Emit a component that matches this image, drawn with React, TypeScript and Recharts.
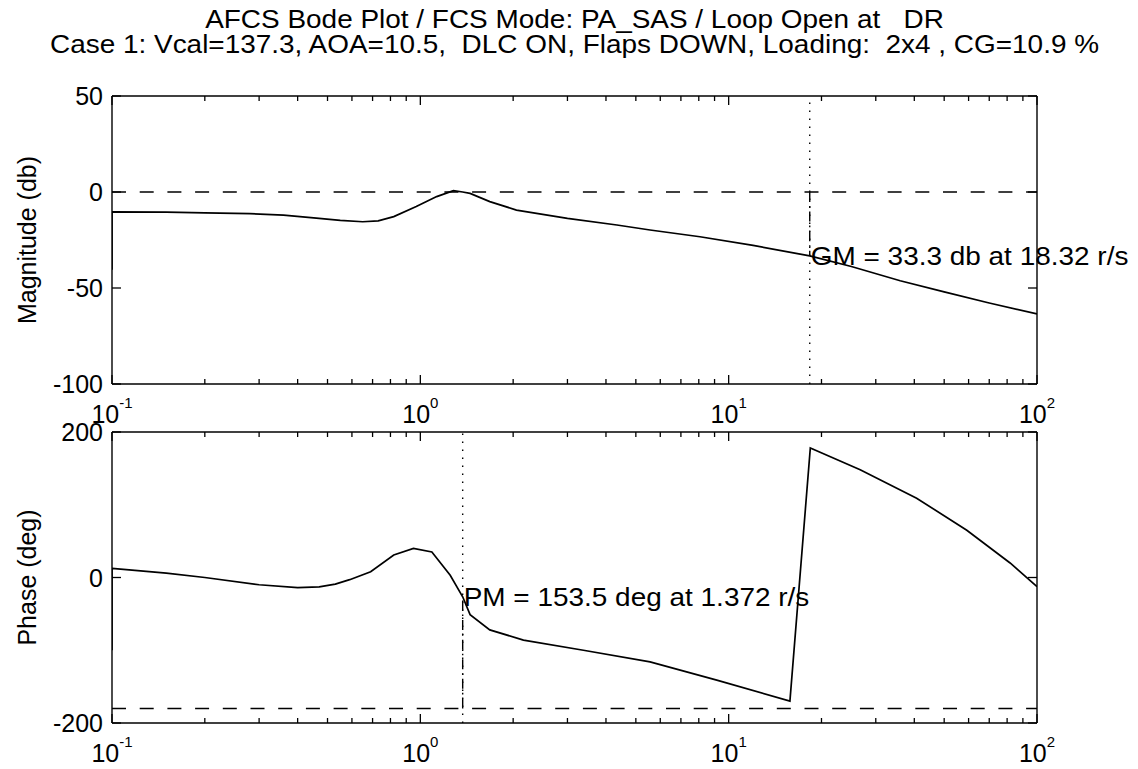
import React from 'react'
import { LineChart, Line, XAxis, YAxis, ReferenceLine, ReferenceDot, Label } from 'recharts'

const FONT = '"Liberation Sans", Arial, Helvetica, sans-serif'
const INK = '#000'

// open-loop frequency response, frequency in rad/s
const magFreq = [0.1, 0.1, 0.15, 0.2, 0.28, 0.36, 0.46, 0.55, 0.65, 0.73, 0.82, 0.97, 1.13, 1.28, 1.372, 1.45, 1.68, 2.05, 3.0, 4.34, 5.56, 8.07, 12, 18.32, 25, 36, 50, 70, 100]
const magDb = [-40.5, -10.3, -10.5, -10.9, -11.3, -12.0, -13.6, -14.8, -15.5, -15.0, -12.8, -7.6, -2.4, 0.7, 0, -0.7, -5.0, -9.4, -13.7, -17.2, -19.8, -23.3, -27.8, -33.3, -38.8, -46.2, -52.0, -57.8, -63.5]

const phaseFreq = [0.1, 0.1, 0.15, 0.2, 0.3, 0.4, 0.47, 0.53, 0.59, 0.69, 0.82, 0.95, 1.09, 1.25, 1.372, 1.45, 1.68, 2.16, 3.38, 5.56, 9.15, 15.8, 18.4, 26.7, 40.7, 59.2, 81.8, 100]
const phaseDeg = [-100, 12.6, 6, 0, -10, -14, -13, -9, -3, 8, 31, 40, 35, 3, -26.5, -51, -72, -86, -100, -116, -141, -170, 178, 148, 109, 65, 20, -12.6]

// stability margins
const gmDb = 33.3
const gmFreq = 18.32
const pmDeg = 153.5
const pmFreq = 1.372

const decadeTicks = [0.1, 1, 10, 100]
const decadeExp = ['-1', '0', '1', '2']
const minorTicks = [0.2, 0.3, 0.4, 0.5, 0.6, 0.7, 0.8, 0.9, 2, 3, 4, 5, 6, 7, 8, 9, 20, 30, 40, 50, 60, 70, 80, 90]
const freqTicks = [...decadeTicks, ...minorTicks].sort((a, b) => a - b)
const magTicks = [-100, -50, 0, 50]
const phaseTicks = [-200, 0, 200]

const titleLines = [
  'AFCS Bode Plot / FCS Mode: PA_SAS / Loop Open at   DR',
  'Case 1: Vcal=137.3, AOA=10.5,  DLC ON, Flaps DOWN, Loading:  2x4 , CG=10.9 %',
]

const magData = magFreq.map((f, i) => ({ f, v: magDb[i] }))
const phaseData = phaseFreq.map((f, i) => ({ f, v: phaseDeg[i] }))

const CHART_W = 1138
const PLOT_LEFT = 112
const PLOT_RIGHT = 1037
const MAJOR = 9
const MINOR = 5
// the printed text runs a little wider than plain Helvetica
const STRETCH = 1.075

function BottomTick(props: any) {
  const { x, y, payload } = props
  const k = decadeTicks.indexOf(payload.value)
  const major = k >= 0
  return (
    <g>
      <line x1={x} y1={y} x2={x} y2={y - (major ? MAJOR : MINOR)} stroke={INK} strokeWidth={1.3} />
      {major && (
        <text x={x} y={y + 39} textAnchor="middle" fontSize={25} fontFamily={FONT} fill={INK}>
          10
          <tspan dy={-15} fontSize={15}>{decadeExp[k]}</tspan>
        </text>
      )}
    </g>
  )
}

function TopTick(props: any) {
  const { x, y, payload } = props
  const major = decadeTicks.includes(payload.value)
  return <line x1={x} y1={y} x2={x} y2={y + (major ? MAJOR : MINOR)} stroke={INK} strokeWidth={1.3} />
}

function LeftTick(props: any) {
  const { x, y, payload } = props
  return (
    <g>
      <line x1={x} y1={y} x2={x + MAJOR} y2={y} stroke={INK} strokeWidth={1.3} />
      <text x={x - 9} y={y} dy={9} textAnchor="end" fontSize={25} fontFamily={FONT} fill={INK}>
        {payload.value}
      </text>
    </g>
  )
}

function RightTick(props: any) {
  const { x, y } = props
  return <line x1={x} y1={y} x2={x - MAJOR} y2={y} stroke={INK} strokeWidth={1.3} />
}

const axisTitle = (text: string) => (props: any) => {
  const vb = props.viewBox
  const cx = 27
  const cy = vb.y + vb.height / 2
  return (
    <text
      x={cx}
      y={cy}
      transform={`rotate(-90 ${cx} ${cy})`}
      textAnchor="middle"
      dominantBaseline="central"
      fontSize={25}
      fontFamily={FONT}
      fill={INK}
    >
      {text}
    </text>
  )
}

const noteLabel = (text: string) => (props: any) => {
  const vb = props.viewBox
  return (
    <text
      x={0}
      y={0}
      dy={9}
      transform={`translate(${vb.x + 1} ${vb.y}) scale(${STRETCH} 1)`}
      fontSize={26}
      fontFamily={FONT}
      fill={INK}
      style={{ whiteSpace: 'pre' }}
    >
      {text}
    </text>
  )
}

// box frame: log frequency axes top/bottom, value axes left/right, all ticks pointing inward
function frame(yDomain: number[], yTicks: number[], yTitle: string) {
  const line = { stroke: INK, strokeWidth: 1.4 }
  return [
    <XAxis
      key="xb"
      xAxisId="b"
      dataKey="f"
      type="number"
      scale="log"
      domain={[0.1, 100]}
      allowDataOverflow
      ticks={freqTicks}
      interval={0}
      tickSize={0}
      tickMargin={0}
      tickLine={false}
      axisLine={line}
      height={46}
      tick={<BottomTick />}
    />,
    <XAxis
      key="xt"
      xAxisId="t"
      orientation="top"
      dataKey="f"
      type="number"
      scale="log"
      domain={[0.1, 100]}
      allowDataOverflow
      ticks={freqTicks}
      interval={0}
      tickSize={0}
      tickMargin={0}
      tickLine={false}
      axisLine={line}
      height={1}
      tick={<TopTick />}
    />,
    <YAxis
      key="yl"
      yAxisId="l"
      type="number"
      domain={yDomain}
      allowDataOverflow
      ticks={yTicks}
      interval={0}
      tickSize={0}
      tickMargin={0}
      tickLine={false}
      axisLine={line}
      width={PLOT_LEFT}
      tick={<LeftTick />}
      label={<Label content={axisTitle(yTitle)} />}
    />,
    <YAxis
      key="yr"
      yAxisId="r"
      orientation="right"
      type="number"
      domain={yDomain}
      allowDataOverflow
      ticks={yTicks}
      interval={0}
      tickSize={0}
      tickMargin={0}
      tickLine={false}
      axisLine={line}
      width={1}
      tick={<RightTick />}
    />,
  ]
}

const dashed = '14 13.7'
const dotted = '1.6 6.4'
const dashDot = '10 4 1.6 4'

export default function App() {
  return (
    <div style={{ position: 'absolute', left: 0, top: 0, width: CHART_W, height: 769, background: '#fff' }}>
      <svg width={CHART_W} height={60} style={{ position: 'absolute', left: 0, top: 0 }}>
        {titleLines.map((t, i) => (
          <text
            key={i}
            x={0}
            y={0}
            transform={`translate(${(PLOT_LEFT + PLOT_RIGHT) / 2} ${28 + i * 25}) scale(${STRETCH} 1)`}
            textAnchor="middle"
            fontSize={26}
            fontFamily={FONT}
            fill={INK}
            style={{ whiteSpace: 'pre' }}
          >
            {t}
          </text>
        ))}
      </svg>

      <div style={{ position: 'absolute', left: 0, top: 50 }}>
        <LineChart width={CHART_W} height={380} margin={{ top: 45, right: CHART_W - PLOT_RIGHT - 1, bottom: 0, left: 0 }}>
          {frame([-100, 50], magTicks, 'Magnitude (db)')}
          <ReferenceLine xAxisId="b" yAxisId="l" y={0} stroke={INK} strokeWidth={1.4} strokeDasharray={dashed} />
          <ReferenceLine xAxisId="b" yAxisId="l" x={gmFreq} stroke={INK} strokeWidth={1.4} strokeDasharray={dotted} />
          <ReferenceLine
            xAxisId="b"
            yAxisId="l"
            segment={[{ x: gmFreq, y: 0 }, { x: gmFreq, y: -gmDb }]}
            stroke={INK}
            strokeWidth={1.4}
            strokeDasharray={dashDot}
          />
          <Line
            xAxisId="b"
            yAxisId="l"
            data={magData}
            dataKey="v"
            type="linear"
            stroke={INK}
            strokeWidth={1.7}
            dot={false}
            isAnimationActive={false}
          />
          <ReferenceDot
            xAxisId="b"
            yAxisId="l"
            x={gmFreq}
            y={-gmDb}
            r={0}
            fill="none"
            stroke="none"
            label={<Label content={noteLabel(`GM = ${gmDb} db at ${gmFreq} r/s`)} />}
          />
        </LineChart>
      </div>

      <div style={{ position: 'absolute', left: 0, top: 405 }}>
        <LineChart width={CHART_W} height={364} margin={{ top: 26, right: CHART_W - PLOT_RIGHT - 1, bottom: 0, left: 0 }}>
          {frame([-200, 200], phaseTicks, 'Phase (deg)')}
          <ReferenceLine xAxisId="b" yAxisId="l" y={-180} stroke={INK} strokeWidth={1.4} strokeDasharray={dashed} />
          <ReferenceLine xAxisId="b" yAxisId="l" x={pmFreq} stroke={INK} strokeWidth={1.4} strokeDasharray={dotted} />
          <ReferenceLine
            xAxisId="b"
            yAxisId="l"
            segment={[{ x: pmFreq, y: -180 }, { x: pmFreq, y: -180 + pmDeg }]}
            stroke={INK}
            strokeWidth={1.4}
            strokeDasharray={dashDot}
          />
          <Line
            xAxisId="b"
            yAxisId="l"
            data={phaseData}
            dataKey="v"
            type="linear"
            stroke={INK}
            strokeWidth={1.7}
            dot={false}
            isAnimationActive={false}
          />
          <ReferenceDot
            xAxisId="b"
            yAxisId="l"
            x={pmFreq}
            y={-180 + pmDeg}
            r={0}
            fill="none"
            stroke="none"
            label={<Label content={noteLabel(`PM = ${pmDeg} deg at ${pmFreq} r/s`)} />}
          />
        </LineChart>
      </div>
    </div>
  )
}
